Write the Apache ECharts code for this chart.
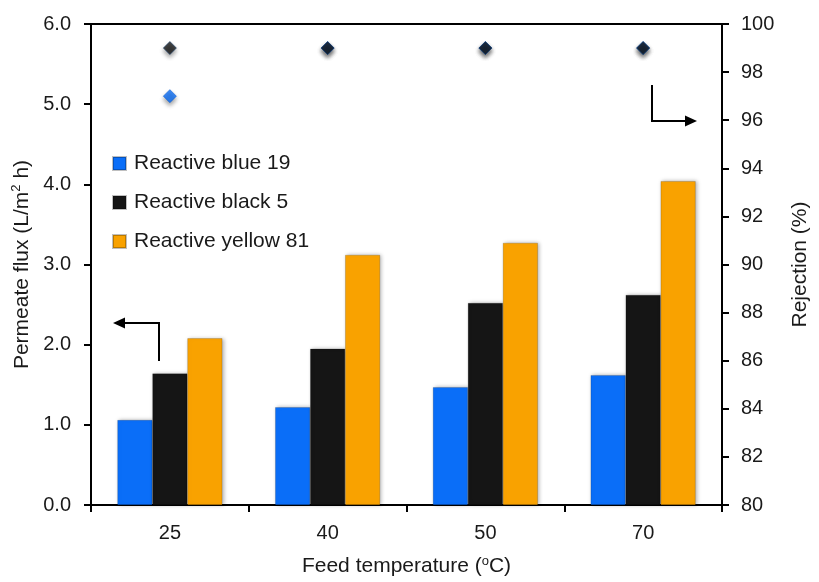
<!DOCTYPE html>
<html>
<head>
<meta charset="utf-8">
<title>Permeate flux and rejection vs feed temperature</title>
<script src="https://cdn.jsdelivr.net/npm/echarts@6/dist/echarts.min.js"></script>
<style>
  html, body { margin: 0; padding: 0; background: #fff; }
  #chart { width: 819px; height: 582px; }
</style>
</head>
<body>
<div id="chart"></div>
<script>
// Feed temperatures (°C)
const temperatures = ['25', '40', '50', '70'];

// Permeate flux (L/m2 h) per dye
const fluxBlue19 = [1.06, 1.22, 1.47, 1.62];
const fluxBlack5 = [1.64, 1.95, 2.52, 2.62];
const fluxYellow81 = [2.08, 3.12, 3.27, 4.04];

// Rejection (%) per dye
const rejectionBlue19 = [97.0, 99.0, 99.0, 99.0];
const rejectionBlack5 = [99.0, 99.0, 99.0, 99.0];

const seriesNames = ['Reactive blue 19', 'Reactive black 5', 'Reactive yellow 81'];
const colors = ['#0a6ef8', '#151515', '#f9a200'];

const FONT = '"Liberation Sans", Arial, sans-serif';
const TXT = '#1a1a1a';

const chart = echarts.init(document.getElementById('chart'), null, { renderer: 'canvas' });

function barSeries(name, data, color) {
  return {
    name: name,
    type: 'bar',
    yAxisIndex: 0,
    data: data,
    barWidth: 35,
    barGap: '0%',
    itemStyle: {
      color: color,
      borderColor: 'rgba(0,0,0,0.25)',
      borderWidth: 0.6,
      shadowColor: 'rgba(0,0,0,0.3)',
      shadowBlur: 4,
      shadowOffsetX: 1.5,
      shadowOffsetY: 0
    },
    emphasis: { disabled: true },
    z: 2
  };
}

function diamondSeries(name, data, color) {
  return {
    name: name,
    type: 'scatter',
    yAxisIndex: 1,
    data: data,
    symbol: 'diamond',
    symbolSize: [13, 13],
    itemStyle: {
      color: color,
      borderColor: color === '#151515' ? '#1b3d66' : '#0a5fd6',
      borderWidth: 0.8,
      shadowColor: 'rgba(0,0,0,0.45)',
      shadowBlur: 4,
      shadowOffsetY: 3
    },
    emphasis: { disabled: true },
    z: 4
  };
}

const axisLine = { show: true, lineStyle: { color: '#000', width: 2 } };
const axisTick = { show: true, inside: false, length: 7, lineStyle: { color: '#000', width: 2 } };

const option = {
  backgroundColor: '#fff',
  animation: false,
  textStyle: { fontFamily: FONT },
  grid: {
    left: 91, right: 87, top: 24, bottom: 70,
    show: true, borderColor: '#000', borderWidth: 2,
    containLabel: false
  },
  legend: {
    data: seriesNames,
    orient: 'vertical',
    left: 107,
    top: 148,
    itemWidth: 13,
    itemHeight: 13,
    itemGap: 18,
    icon: 'rect',
    textStyle: { fontFamily: FONT, fontSize: 21, color: TXT, padding: [0, 0, 0, 3] },
    selectedMode: false
  },
  xAxis: {
    type: 'category',
    data: temperatures,
    axisLine: axisLine,
    axisTick: Object.assign({}, axisTick, { alignWithLabel: false }),
    axisLabel: { fontFamily: FONT, fontSize: 20, color: TXT, margin: 18 },
    splitLine: { show: false },
    name: '{t|Feed temperature (}{s|o}{t|C)}',
    nameLocation: 'middle',
    nameGap: 50,
    nameTextStyle: {
      fontFamily: FONT,
      rich: {
        t: { fontFamily: FONT, fontSize: 21, color: TXT },
        s: { fontFamily: FONT, fontSize: 13, color: TXT, padding: [0, 0, 10, 0] }
      }
    }
  },
  yAxis: [
    {
      type: 'value',
      position: 'left',
      min: 0, max: 6, interval: 1,
      axisLine: axisLine,
      axisTick: axisTick,
      splitLine: { show: false },
      axisLabel: {
        fontFamily: FONT, fontSize: 20, color: TXT, margin: 20,
        formatter: function (v) { return v.toFixed(1); }
      },
      name: '{t|Permeate flux (L/m}{s|2}{t| h)}',
      nameLocation: 'middle',
      nameRotate: 90,
      nameGap: 52,
      nameTextStyle: {
        fontFamily: FONT,
        rich: {
          t: { fontFamily: FONT, fontSize: 21, color: TXT },
          s: { fontFamily: FONT, fontSize: 13, color: TXT, padding: [0, 0, 10, 0] }
        }
      }
    },
    {
      type: 'value',
      position: 'right',
      min: 80, max: 100, interval: 2,
      axisLine: axisLine,
      axisTick: axisTick,
      splitLine: { show: false },
      axisLabel: { fontFamily: FONT, fontSize: 20, color: TXT, margin: 19 },
      name: 'Rejection (%)',
      nameLocation: 'middle',
      nameRotate: 90,
      nameGap: 68,
      nameTextStyle: { fontFamily: FONT, fontSize: 21, color: TXT }
    }
  ],
  series: [
    barSeries(seriesNames[0], fluxBlue19, colors[0]),
    barSeries(seriesNames[1], fluxBlack5, colors[1]),
    barSeries(seriesNames[2], fluxYellow81, colors[2]),
    diamondSeries('Rejection blue 19', rejectionBlue19, colors[0]),
    diamondSeries('Rejection black 5', rejectionBlack5, colors[1])
  ],
  graphic: [
    // arrow pointing to the flux axis
    {
      type: 'polyline',
      shape: { points: [[159, 361], [159, 323], [123, 323]] },
      style: { stroke: '#000', lineWidth: 2, fill: null },
      z: 10
    },
    {
      type: 'polygon',
      shape: { points: [[113, 323], [125, 317.5], [125, 328.5]] },
      style: { fill: '#000' },
      z: 10
    },
    // arrow pointing to the rejection axis
    {
      type: 'polyline',
      shape: { points: [[652, 85], [652, 121], [687, 121]] },
      style: { stroke: '#000', lineWidth: 2, fill: null },
      z: 10
    },
    {
      type: 'polygon',
      shape: { points: [[697, 121], [685, 115.5], [685, 126.5]] },
      style: { fill: '#000' },
      z: 10
    }
  ]
};

chart.setOption(option);
</script>
</body>
</html>
